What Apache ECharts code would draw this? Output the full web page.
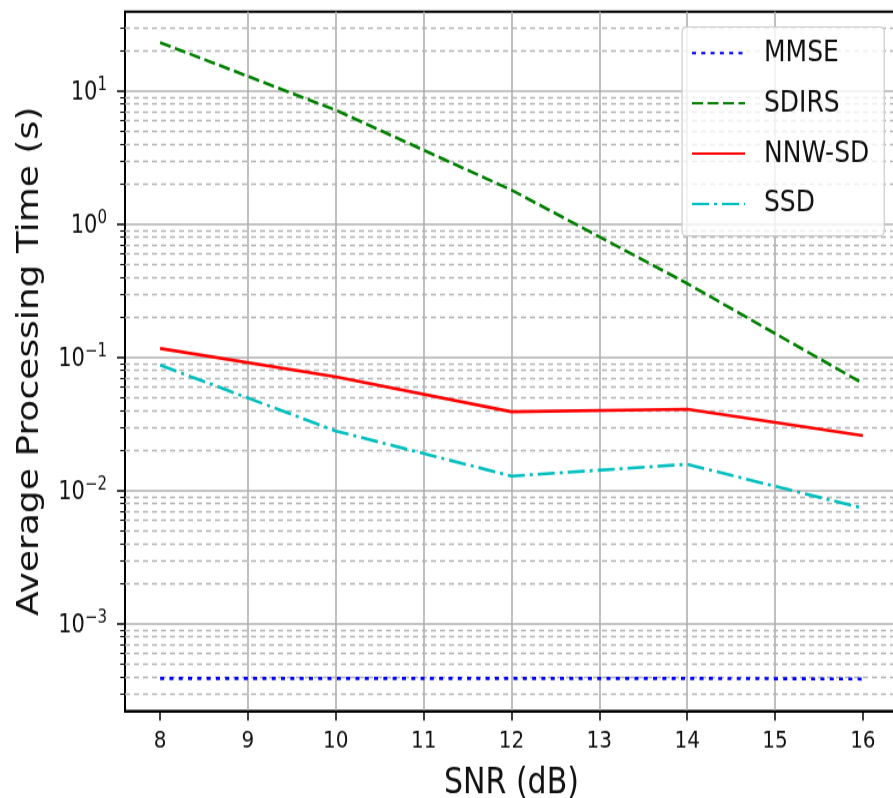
<!DOCTYPE html>
<html>
<head>
<meta charset="utf-8">
<script src="https://cdn.jsdelivr.net/npm/echarts@6/dist/echarts.min.js"></script>
<style>
  html, body { margin: 0; padding: 0; background: #fff; }
  #frame { position: relative; width: 893px; height: 798px; overflow: hidden; }
  /* the figure is drawn 665px tall and stretched vertically to 798px */
  #chart { position: absolute; left: 0; top: 0; width: 893px; height: 665px;
           transform: scaleY(1.2); transform-origin: 0 0; }
</style>
</head>
<body>
<div id="frame"><div id="chart"></div></div>
<script>
// SNR points (dB)
const snr = [8, 10, 12, 14, 16];
// average processing time (s) per detector
const mmse  = [3.9e-4, 3.9e-4, 3.9e-4, 3.9e-4, 3.86e-4];
const sdirs = [23.2, 7.2, 1.81, 0.36, 0.064];
const nnwsd = [0.117, 0.0718, 0.0392, 0.041, 0.0259];
const ssd   = [0.0879, 0.0281, 0.0129, 0.0158, 0.0074];

// axis ticks
const xTicks = [8, 9, 10, 11, 12, 13, 14, 15, 16];
const yMajorTicks = [1e-3, 1e-2, 1e-1, 1, 10];
const minorMantissas = [2, 3, 4, 5, 6, 7, 8, 9];
const decadeExponents = [-4, -3, -2, -1, 0, 1];
const xMin = 7.6, xMax = 16.4;
const yMin = 2.22e-4, yMax = 39.5;

const minorValues = [];
decadeExponents.forEach(function (e) {
  minorMantissas.forEach(function (m) {
    const v = m * Math.pow(10, e);
    if (v > yMin && v < yMax) minorValues.push(v);
  });
});

const FONT = 'DejaVu Sans';
const INK = '#111';

function lineSeries(name, values, color, dash) {
  return {
    name: name,
    type: 'line',
    data: snr.map(function (x, i) { return [x, values[i]]; }),
    symbol: 'none',
    showSymbol: false,
    lineStyle: { color: color, width: 2.6, type: dash, cap: 'butt' },
    itemStyle: { color: color },
    z: 3
  };
}

const mmseSeries = lineSeries('MMSE', mmse, '#0000ff', [4, 5.3]);
// dashed minor grid lines at 2..9 x 10^k
mmseSeries.markLine = {
  silent: true,
  z: 1,
  precision: 12,
  symbol: ['none', 'none'],
  label: { show: false },
  lineStyle: { color: '#b4b4b4', width: 1.3, type: [5, 4] },
  emphasis: { disabled: true },
  data: minorValues.map(function (v) { return { yAxis: v }; })
};

function expLabel(v) {
  const e = Math.log10(v);
  const r = Math.round(e);
  if (Math.abs(e - r) > 1e-6) return '';
  const ex = r < 0 ? '\u2212' + (-r) : String(r);
  return '{b|10}{e|' + ex + '}';
}

const chart = echarts.init(document.getElementById('chart'), null, { renderer: 'canvas' });

chart.setOption({
  animation: false,
  backgroundColor: '#fff',
  textStyle: { fontFamily: FONT, color: INK },
  grid: [
    { left: 125, top: 9.75, width: 773, height: 582.75, show: true, outerBoundsMode: 'none',
      containLabel: false,
      borderColor: '#000', borderWidth: 1.8, backgroundColor: 'transparent' },
    // narrow strip left of the y axis that carries the y tick marks
    { left: 117, top: 9.75, width: 8, height: 582.75, show: false, outerBoundsMode: 'none',
      containLabel: false }
  ],
  legend: {
    orient: 'vertical',
    left: 682,
    top: 22.5,
    padding: [7.7, 15, 12.7, 9],
    itemWidth: 53,
    itemHeight: 14,
    itemGap: 13.9,
    itemStyle: { opacity: 0, borderWidth: 0 },
    backgroundColor: 'rgba(255,255,255,0.8)',
    borderColor: '#cccccc',
    borderWidth: 1.2,
    borderRadius: 4,
    textStyle: { fontSize: 25, lineHeight: 28, color: INK, fontFamily: FONT, padding: [0, 0, 0, 14] },
    data: ['MMSE', 'SDIRS', 'NNW-SD', 'SSD']
  },
  xAxis: [
    {
      type: 'value',
      gridIndex: 0,
      min: xMin,
      max: xMax,
      splitNumber: 9,
      minInterval: 1,
      maxInterval: 1,
      axisLine: { show: true, onZero: false, lineStyle: { color: '#000', width: 1.8 } },
      axisTick: { show: true, length: 8, customValues: xTicks, lineStyle: { color: '#000', width: 1.5 } },
      axisLabel: {
        show: true, fontSize: 20, color: INK, margin: 15, fontFamily: FONT,
        customValues: xTicks,
        formatter: function (v) { return Math.abs(v - Math.round(v)) < 1e-6 ? String(Math.round(v)) : ''; }
      },
      splitLine: { show: true, showMinLine: false, showMaxLine: false,
                   lineStyle: { color: '#b0b0b0', width: 1.6 } },
      name: 'SNR (dB)',
      nameLocation: 'middle',
      nameGap: 45.6,
      nameTextStyle: { fontSize: 30, color: INK, fontFamily: FONT }
    },
    { type: 'value', gridIndex: 1, min: 0, max: 1, show: false }
  ],
  yAxis: [
    {
      type: 'log',
      logBase: 10,
      gridIndex: 0,
      min: yMin,
      max: yMax,
      splitNumber: 5,
      axisLine: { show: true, onZero: false, lineStyle: { color: '#000', width: 1.8 } },
      axisTick: { show: false },
      axisLabel: {
        show: true,
        margin: 18,
        showMinLabel: false,
        showMaxLabel: false,
        formatter: expLabel,
        rich: {
          b: { fontSize: 21, lineHeight: 24, verticalAlign: 'bottom', color: INK, fontFamily: FONT },
          e: { fontSize: 15, lineHeight: 15, verticalAlign: 'top', color: INK, fontFamily: FONT }
        }
      },
      splitLine: { show: true, showMinLine: false, showMaxLine: false,
                   lineStyle: { color: '#b0b0b0', width: 1.6 } },
      name: 'Average Processing Time (s)',
      nameLocation: 'middle',
      nameGap: 80,
      nameRotate: 90,
      nameTextStyle: { fontSize: 30, color: INK, fontFamily: FONT }
    },
    { type: 'log', logBase: 10, gridIndex: 1, min: yMin, max: yMax, show: false }
  ],
  series: [
    mmseSeries,
    lineSeries('SDIRS', sdirs, '#008000', [11, 4.5]),
    lineSeries('NNW-SD', nnwsd, '#ff0000', 'solid'),
    lineSeries('SSD', ssd, '#00bfbf', [17, 5, 3, 5]),
    {
      name: 'yTicks',
      type: 'line',
      xAxisIndex: 1,
      yAxisIndex: 1,
      data: [],
      silent: true,
      markLine: {
        silent: true,
        precision: 12,
        symbol: ['none', 'none'],
        label: { show: false },
        emphasis: { disabled: true },
        lineStyle: { color: '#000', width: 1.5, type: 'solid' },
        data: yMajorTicks.map(function (v) {
          return [{ coord: [0, v] }, { coord: [1, v] }];
        }).concat(minorValues.map(function (v) {
          return [{ coord: [0.4, v], lineStyle: { width: 1.1 } }, { coord: [1, v] }];
        }))
      }
    }
  ]
});
</script>
</body>
</html>
